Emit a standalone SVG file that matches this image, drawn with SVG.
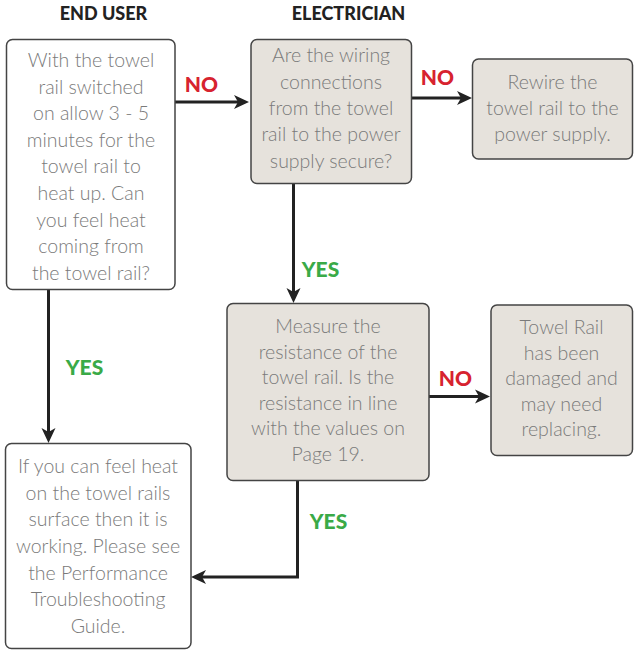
<svg xmlns="http://www.w3.org/2000/svg" width="635" height="650" viewBox="0 0 635 650">
<defs>
<style>
.box{stroke:#444;stroke-width:1.5}
.w{fill:#fff}
.g{fill:#e6e2dc}
.t{font-family:Lato,"Open Sans","Liberation Sans",sans-serif;font-weight:300;font-size:19.5px;fill:#7a7a7a;text-anchor:middle}
.h{font-family:Lato,"Open Sans","Liberation Sans",sans-serif;font-weight:900;font-size:18px;fill:#222;text-anchor:middle}
.no{font-family:Lato,"Open Sans","Liberation Sans",sans-serif;font-weight:900;font-size:21px;fill:#d7232f;text-anchor:middle}
.yes{font-family:Lato,"Open Sans","Liberation Sans",sans-serif;font-weight:900;font-size:21px;fill:#3aaa47;text-anchor:middle}
.c{fill:none;stroke:#222;stroke-width:3}
</style>
</defs>
<text class="h" x="103.5" y="20">END USER</text>
<text class="h" x="348.5" y="20">ELECTRICIAN</text>

<g id="connectors">
<line class="c" x1="175" y1="102" x2="240" y2="102"/>
<path d="M234,95 L249,102 L234,109 L238,102 z" fill="#222"/>
<line class="c" x1="412" y1="98" x2="463" y2="98"/>
<path d="M457,91 L472,98 L457,105 L461,98 z" fill="#222"/>
<line class="c" x1="293.5" y1="184" x2="293.5" y2="294"/>
<path d="M286.5,288 L293.5,303 L300.5,288 L293.5,292 z" fill="#222"/>
<line class="c" x1="48.5" y1="290" x2="48.5" y2="434"/>
<path d="M41.5,428 L48.5,443 L55.5,428 L48.5,432 z" fill="#222"/>
<line class="c" x1="429" y1="396.5" x2="481" y2="396.5"/>
<path d="M475,389.5 L490,396.5 L475,403.5 L479,396.5 z" fill="#222"/>
<polyline class="c" points="297.5,481 297.5,577 200,577"/>
<path d="M206,570 L191,577 L206,584 L202,577 z" fill="#222"/>
<text class="no" x="201.5" y="91.5">NO</text>
<text class="no" x="437.5" y="85">NO</text>
<text class="no" x="455.5" y="386">NO</text>
<text class="yes" x="320.5" y="276.5">YES</text>
<text class="yes" x="84.5" y="375">YES</text>
<text class="yes" x="328.5" y="528.5">YES</text>
</g>

<g id="n1">
<rect class="box w" x="6.5" y="39.5" width="168.5" height="250" rx="6"/>
<text class="t" x="91" y="67">With the towel</text>
<text class="t" x="91" y="93.5">rail switched</text>
<text class="t" x="91" y="120">on allow 3 - 5</text>
<text class="t" x="91" y="146.5">minutes for the</text>
<text class="t" x="91" y="173">towel rail to</text>
<text class="t" x="91" y="200">heat up. Can</text>
<text class="t" x="91" y="226.5">you feel heat</text>
<text class="t" x="91" y="253">coming from</text>
<text class="t" x="91" y="279.5">the towel rail?</text>
</g>

<g id="n2">
<rect class="box g" x="251" y="39.5" width="160.5" height="144" rx="6"/>
<text class="t" x="331" y="62">Are the wiring</text>
<text class="t" x="331" y="88.5">connections</text>
<text class="t" x="331" y="114.5">from the towel</text>
<text class="t" x="331" y="141">rail to the power</text>
<text class="t" x="331" y="167.5">supply secure?</text>
</g>

<g id="n3">
<rect class="box g" x="472.5" y="59" width="160" height="100" rx="6"/>
<text class="t" x="552.5" y="88.5">Rewire the</text>
<text class="t" x="552.5" y="115">towel rail to the</text>
<text class="t" x="552.5" y="140.5">power supply.</text>
</g>

<g id="n4">
<rect class="box g" x="227" y="303.5" width="202" height="177" rx="6"/>
<text class="t" x="328" y="333">Measure the</text>
<text class="t" x="328" y="358.5">resistance of the</text>
<text class="t" x="328" y="384">towel rail. Is the</text>
<text class="t" x="328" y="409.5">resistance in line</text>
<text class="t" x="328" y="435">with the values on</text>
<text class="t" x="328" y="460.5">Page 19.</text>
</g>

<g id="n5">
<rect class="box g" x="491" y="305" width="141.5" height="150.5" rx="6"/>
<text class="t" x="561.5" y="334">Towel Rail</text>
<text class="t" x="561.5" y="359.5">has been</text>
<text class="t" x="561.5" y="385">damaged and</text>
<text class="t" x="561.5" y="410.5">may need</text>
<text class="t" x="561.5" y="436">replacing.</text>
</g>

<g id="n6">
<rect class="box w" x="5.5" y="443.5" width="185.5" height="205" rx="6"/>
<text class="t" x="98" y="473">If you can feel heat</text>
<text class="t" x="98" y="499.5">on the towel rails</text>
<text class="t" x="98" y="526">surface then it is</text>
<text class="t" x="98" y="552.5">working. Please see</text>
<text class="t" x="98" y="579.5">the Performance</text>
<text class="t" x="98" y="606">Troubleshooting</text>
<text class="t" x="98" y="632.5">Guide.</text>
</g>
</svg>
